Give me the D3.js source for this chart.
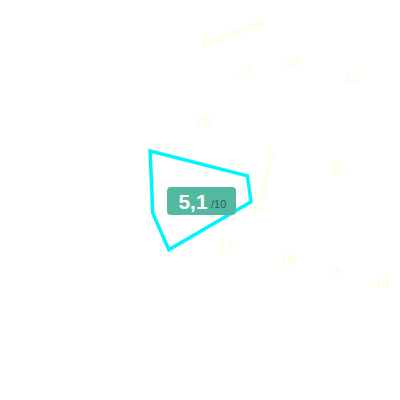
<!DOCTYPE html>
<html>
<head>
<meta charset="utf-8">
<script src="https://cdn.jsdelivr.net/npm/d3@7"></script>
<style>
  body { margin: 0; background: #fff; }
  svg { display: block; font-family: "Liberation Sans", Arial, sans-serif; }
</style>
</head>
<body>
<div id="chart"></div>
<script>
// radar axes (angle in degrees, clockwise from east) and the score on each one
const axisAngles = [-135.5, -27, 2, 122, 164.5];
const axisValues = [5.0, 3.8, 3.65, 4.2, 3.5];
const score = "5,1";
const scoreMax = "/10";

// faint labels around the plot, in page units
const hourLabels = ["20", "21", "22", "23", "18", "17", "16", "15", "13"];
const hourX = [204, 246, 294, 352, 338, 226, 288, 335, 382];
const hourY = [122, 71, 61, 77, 170, 246, 260, 272, 283];
const sideLabels = ["Kochtechnik", "Zubereitung"];
const sideX = [232, 266];
const sideY = [33, 182];
const sideRot = [-21, 100];

const width = 400, height = 400;
const cx = 200, cy = 200;

const svg = d3.select("#chart")
    .append("svg")
        .attr("width", width)
        .attr("height", height);

const x = d3.scaleLinear().domain([0, 400]).range([0, width]);
const y = d3.scaleLinear().domain([0, 400]).range([0, height]);
const r = d3.scaleLinear().domain([0, 10]).range([0, 140]);

// faint labels
svg.append("g")
    .selectAll("text")
    .data(hourLabels)
    .enter()
    .append("text")
        .attr("x", (d, i) => x(hourX[i]))
        .attr("y", (d, i) => y(hourY[i]))
        .attr("dy", "0.35em")
        .attr("text-anchor", "middle")
        .style("font-size", "14px")
        .style("fill", "#fffcdc")
        .text(d => d);

svg.append("g")
    .selectAll("text")
    .data(sideLabels)
    .enter()
    .append("text")
        .attr("transform", (d, i) => `translate(${x(sideX[i])}, ${y(sideY[i])}) rotate(${sideRot[i]})`)
        .attr("dy", "0.35em")
        .attr("text-anchor", "middle")
        .style("font-size", "12px")
        .style("fill", "#fffcdc")
        .text(d => d);

// radar polygon
const line = d3.lineRadial()
    .angle((d, i) => (axisAngles[i] + 90) * Math.PI / 180)
    .radius(d => r(d))
    .curve(d3.curveLinearClosed);

svg.append("path")
    .datum(axisValues)
    .attr("transform", `translate(${cx}, ${cy})`)
    .attr("d", line)
    .attr("fill", "none")
    .attr("stroke", "#00f4ff")
    .attr("stroke-width", 3.5)
    .attr("stroke-linejoin", "miter");

// score badge
const badge = svg.append("g").attr("transform", `translate(${cx}, ${cy})`);
badge.append("rect")
    .attr("x", -33)
    .attr("y", -13)
    .attr("width", 69)
    .attr("height", 28)
    .attr("rx", 4)
    .attr("fill", "#52b8a0");
badge.append("text")
    .attr("x", -7)
    .attr("y", 2)
    .attr("dy", "0.35em")
    .attr("text-anchor", "middle")
    .style("font-size", "21px")
    .style("font-weight", "bold")
    .style("fill", "#fff")
    .text(score);
badge.append("text")
    .attr("x", 11)
    .attr("y", 4)
    .attr("dy", "0.35em")
    .style("font-size", "11px")
    .style("fill", "#2f5f55")
    .text(scoreMax);
</script>
</body>
</html>
